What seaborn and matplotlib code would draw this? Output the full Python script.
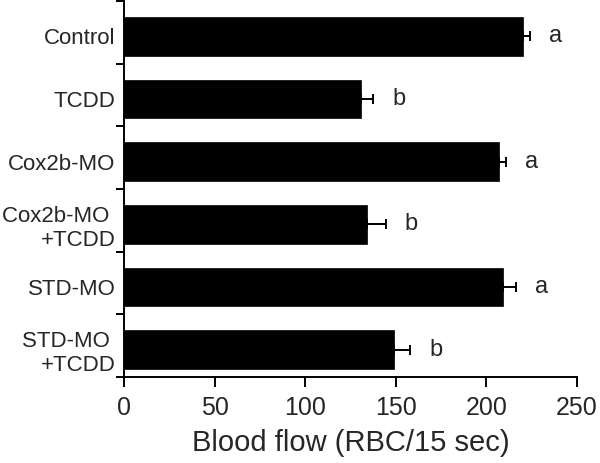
import numpy as np
import pandas as pd
import matplotlib
matplotlib.use("Agg")
import matplotlib.pyplot as plt
import seaborn as sns

# values
groups = ["Control", "TCDD", "Cox2b-MO", "Cox2b-MO \n+TCDD", "STD-MO", "STD-MO \n+TCDD"]
flow = [220, 131, 207, 134, 209, 149]
sem = [4, 6.5, 4, 10.5, 7.5, 9]
letters = ["a", "b", "a", "b", "a", "b"]

df = pd.DataFrame({"group": groups, "flow": flow, "sem": sem})

sns.set_style("ticks")
plt.rcParams["font.family"] = ["Liberation Sans", "DejaVu Sans"]

fig = plt.figure(figsize=(6, 4.63), dpi=100)
ax = fig.add_axes([124 / 600, 86 / 463, 453 / 600, 376 / 463])

sns.barplot(data=df, x="flow", y="group", orient="h", color="black",
            width=0.62, edgecolor="black", linewidth=0.5, ax=ax)

# one-sided error bars
ypos = np.arange(len(groups))
ax.errorbar(df["flow"], ypos, xerr=[np.zeros(len(groups)), df["sem"]],
            fmt="none", ecolor="black", elinewidth=1.4, capsize=3.6, capthick=1.4)

for y, v, e, lab in zip(ypos, flow, sem, letters):
    ax.text(v + e + 14, y, lab, ha="center", va="center", fontsize=17)

ax.set_xlim(0, 250)
ax.set_xticks(np.arange(0, 251, 50))
ax.set_ylim(5.435, -0.565)
ax.set_yticks(ypos)
ax.set_yticklabels(groups, multialignment="right")
ax.set_yticks(np.arange(7) - 0.565, minor=True)
ax.tick_params(axis="y", which="major", length=0, pad=6, labelsize=16)
ax.tick_params(axis="y", which="minor", length=6, width=1.4, color="black")
ax.tick_params(axis="x", length=7, width=1.4, color="black", labelsize=18, pad=7)

ax.set_xlabel("Blood flow (RBC/15 sec)", fontsize=21, labelpad=6)
ax.set_ylabel("")

sns.despine(ax=ax)
for s in ["left", "bottom"]:
    ax.spines[s].set_linewidth(1.4)
    ax.spines[s].set_color("black")

fig.savefig("out.png", dpi=100)
